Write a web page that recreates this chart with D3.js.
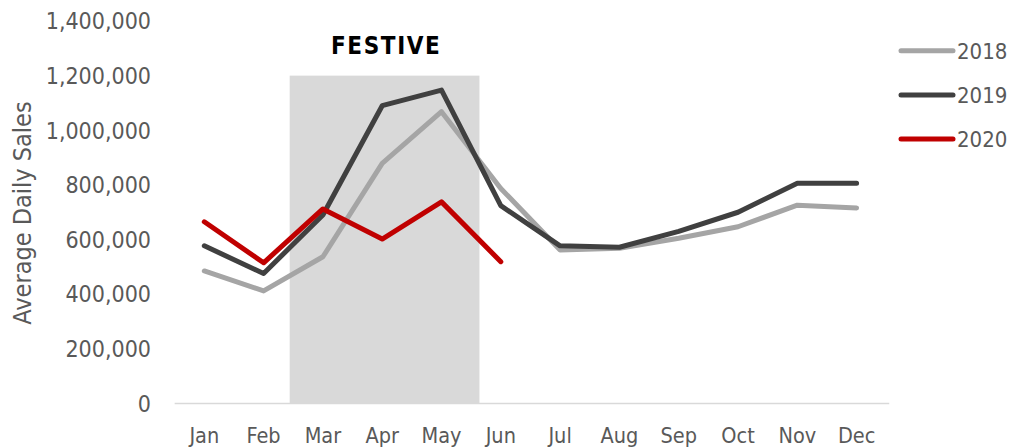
<!DOCTYPE html>
<html>
<head>
<meta charset="utf-8">
<script src="https://cdn.jsdelivr.net/npm/d3@7"></script>
<style>
  body { margin: 0; background: #fff; }
  text { font-family: "DejaVu Sans Condensed", "DejaVu Sans", sans-serif; }
</style>
</head>
<body>
<svg width="1012" height="448"></svg>
<script>
var months = ["Jan", "Feb", "Mar", "Apr", "May", "Jun", "Jul", "Aug", "Sep", "Oct", "Nov", "Dec"];
var sales2018 = [485000, 412000, 537000, 879000, 1068000, 787000, 562000, 568000, 605000, 647000, 726000, 716000];
var sales2019 = [577000, 476000, 690000, 1090000, 1147000, 724000, 577000, 572000, 630000, 700000, 806000, 806000];
var sales2020 = [665000, 515000, 712000, 602000, 738000, 519000];
var years = ["2018", "2019", "2020"];
var yTicks = [0, 200000, 400000, 600000, 800000, 1000000, 1200000, 1400000];
var festive = ["Mar", "May"];
var festiveTop = 1200000;

var c = ['#a5a5a5', '#404040', '#c00000'];
var series = [sales2018, sales2019, sales2020];

var svg = d3.select("svg");

var x = d3.scalePoint()
  .domain(months)
  .range([204.3, 856.6]);
var step = x.step();

var y = d3.scaleLinear()
  .domain([0, 1400000])
  .range([403.5, 21]);

// festive shading
svg.append("rect")
  .attr("x", x(festive[0]) - step * 0.56)
  .attr("width", x(festive[1]) - x(festive[0]) + step * 1.2)
  .attr("y", y(festiveTop))
  .attr("height", y(0) - y(festiveTop))
  .attr("fill", "#d9d9d9");

svg.append("text")
  .attr("x", (x(festive[0]) + x(festive[1])) / 2 + 4)
  .attr("y", 54)
  .attr("text-anchor", "middle")
  .attr("font-family", "DejaVu Sans")
  .attr("font-size", 24)
  .attr("font-weight", "bold")
  .attr("letter-spacing", 1.6)
  .attr("fill", "#000")
  .text("FESTIVE");

// x axis line
svg.append("line")
  .attr("x1", x(months[0]) - step / 2)
  .attr("x2", x(months[11]) + step / 2 + 3)
  .attr("y1", y(0))
  .attr("y2", y(0))
  .attr("stroke", "#d9d9d9")
  .attr("stroke-width", 1.5);

// y tick labels
svg.selectAll(".ytick")
  .data(yTicks)
  .enter()
  .append("text")
  .attr("class", "ytick")
  .attr("x", 151)
  .attr("y", function(d) { return y(d); })
  .attr("dy", "0.36em")
  .attr("text-anchor", "end")
  .attr("font-size", 23)
  .attr("fill", "#595959")
  .text(function(d) { return d3.format(",")(d); });

// x tick labels
svg.selectAll(".xtick")
  .data(months)
  .enter()
  .append("text")
  .attr("class", "xtick")
  .attr("x", function(d) { return x(d); })
  .attr("y", 442.5)
  .attr("text-anchor", "middle")
  .attr("font-family", "DejaVu Sans")
  .attr("font-size", 21.5)
  .attr("fill", "#595959")
  .text(function(d) { return d; });

// y title
svg.append("text")
  .attr("transform", "translate(31,213) rotate(-90)")
  .attr("text-anchor", "middle")
  .attr("font-family", "DejaVu Sans")
  .attr("font-size", 25)
  .attr("fill", "#595959")
  .text("Average Daily Sales");

// lines
var line = d3.line()
  .x(function(d, i) { return x(months[i]); })
  .y(function(d) { return y(d); });

svg.selectAll(".series")
  .data(series)
  .enter()
  .append("path")
  .attr("class", "series")
  .attr("fill", "none")
  .attr("stroke", function(d, i) { return c[i]; })
  .attr("stroke-width", 5)
  .attr("stroke-linejoin", "round")
  .attr("stroke-linecap", "round")
  .attr("d", line);

// legend
var legend = svg.selectAll(".legend")
  .data(years)
  .enter()
  .append("g")
  .attr("class", "legend")
  .attr("transform", function(d, i) { return "translate(0," + (50.7 + i * 44.2) + ")"; });

legend.append("line")
  .attr("x1", 901)
  .attr("x2", 953)
  .attr("stroke", function(d, i) { return c[i]; })
  .attr("stroke-width", 5)
  .attr("stroke-linecap", "round");

legend.append("text")
  .attr("x", 957)
  .attr("dy", "0.36em")
  .attr("font-size", 22)
  .attr("fill", "#595959")
  .text(function(d) { return d; });
</script>
</body>
</html>
